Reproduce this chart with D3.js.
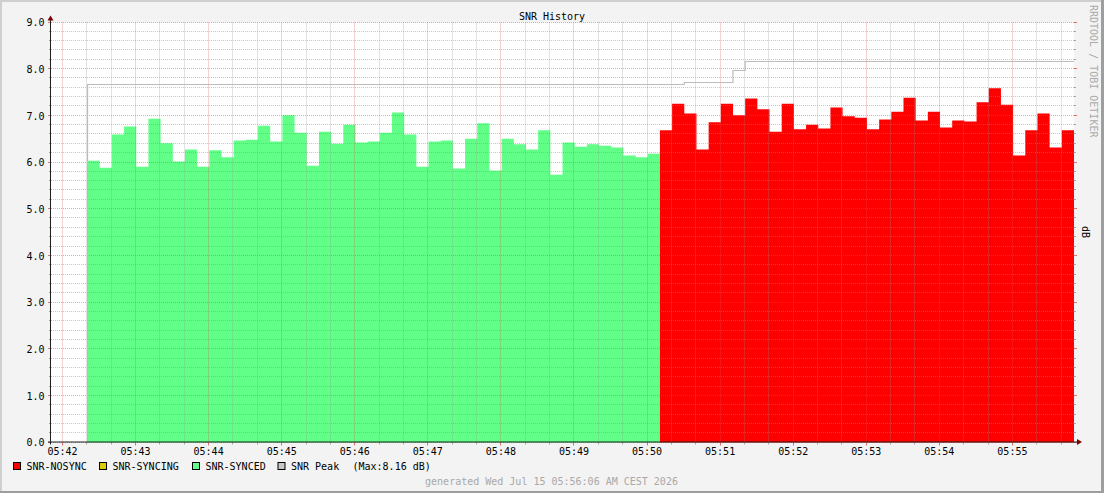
<!DOCTYPE html>
<html><head><meta charset="utf-8">
<script src="https://cdn.jsdelivr.net/npm/d3@7"></script>
<style>
body{margin:0;background:#f3f3f3}
svg text{font-family:"DejaVu Sans Mono",monospace;font-size:10px}
</style></head>
<body><svg id="c" width="1104" height="493"></svg>
<script>
// ---------- data ----------
const day = "2026-07-15T";
const timeDomain = ["05:41:51", "05:55:51"];
const tickLabels = ["05:42","05:43","05:44","05:45","05:46","05:47","05:48","05:49","05:50","05:51","05:52","05:53","05:54","05:55"];
const yTickValues = [0,1,2,3,4,5,6,7,8,9];
const firstBarStart = "05:42:21";
const stepSeconds = 10;
const syncedValues = [6.04,5.89,6.60,6.77,5.91,6.94,6.41,6.02,6.28,5.91,6.26,6.11,6.47,6.49,6.79,6.45,7.01,6.64,5.93,6.66,6.40,6.81,6.43,6.45,6.64,7.07,6.60,5.91,6.45,6.47,5.87,6.51,6.84,5.83,6.51,6.39,6.28,6.69,5.74,6.43,6.34,6.39,6.36,6.32,6.15,6.11,6.19];
const syncingValues = [];
const nosyncValues = [6.69,7.26,7.05,6.28,6.86,7.26,7.01,7.37,7.14,6.66,7.26,6.71,6.81,6.73,7.18,6.99,6.96,6.71,6.92,7.09,7.39,6.90,7.09,6.75,6.90,6.88,7.29,7.59,7.24,6.15,6.69,7.05,6.32,6.69];
const peakChangeTimes = ["05:42:21","05:50:31","05:51:11","05:51:21"];
const peakValues = [7.67,7.71,7.96,8.16];
const legendLabels = ["SNR-NOSYNC","SNR-SYNCING","SNR-SYNCED","SNR Peak"];
const legendColors = ["#ff0000","#ddcc00","#62ff88","#c8c8c8"];
const peakMaxLabel = "(Max:8.16 dB)";
const titleText = "SNR History";
const unitLabel = "dB";
const watermark = "RRDTOOL / TOBI OETIKER";
const footerText = "generated Wed Jul 15 05:56:06 AM CEST 2026";

// ---------- setup ----------
const T = s => new Date(day + (s.length === 5 ? s + ":00" : s) + "Z");
const svg = d3.select("#c");
const W = 1104, H = 493;
const L = 51, R = 1074, TOP = 22.5, BOT = 442.5;

const x = d3.scaleUtc().domain(timeDomain.map(T)).range([L, R]);
const y = d3.scaleLinear().domain([0, 9]).range([BOT, TOP]);
const barTime = i => new Date(T(firstBarStart).getTime() + i * stepSeconds * 1000);
const crisp = v => Math.round(v) + 0.5;

// background + borders
svg.append("rect").attr("width", W).attr("height", H).attr("fill", "#f3f3f3");
svg.append("rect").attr("x", 0).attr("y", 0).attr("width", W).attr("height", 2).attr("fill", "#cfcfcf");
svg.append("rect").attr("x", 0).attr("y", 0).attr("width", 2).attr("height", H).attr("fill", "#cfcfcf");
svg.append("rect").attr("x", 0).attr("y", 491).attr("width", W).attr("height", 2).attr("fill", "#9e9e9e");
svg.append("rect").attr("x", 1101).attr("y", 0).attr("width", 3).attr("height", H).attr("fill", "#9e9e9e");

// canvas
svg.append("rect").attr("x", L).attr("y", TOP).attr("width", R - L).attr("height", BOT - TOP).attr("fill", "#ffffff");

// areas
function segArea(vals, offset, color) {
  if (!vals.length) return;
  const pts = vals.map((v, k) => ({t: barTime(offset + k), v}));
  pts.push({t: barTime(offset + vals.length), v: vals[vals.length - 1]});
  const a = d3.area().x(d => x(d.t)).y0(y(0)).y1(d => y(d.v)).curve(d3.curveStepAfter);
  svg.append("path").attr("d", a(pts)).attr("fill", color);
}
segArea(syncedValues, 0, legendColors[2]);
segArea(syncingValues, syncedValues.length, legendColors[1]);
segArea(nosyncValues, syncedValues.length + syncingValues.length, legendColors[0]);

// grid (drawn over data, as rrdtool does)
const grid = svg.append("g");
const minorCol = "rgba(143,143,143,0.5)", majorCol = "rgba(222,79,79,0.5)";
const majorT = tickLabels.map(T);
const minorT = d3.utcSecond.every(20).range(x.domain()[0], x.domain()[1])
  .filter(d => d.getUTCSeconds() !== 0);
const yMinor = d3.range(0, 45).map(k => k * 0.2).filter(v => Math.abs(v - Math.round(v)) > 1e-6);

minorT.forEach(t => {
  const xx = crisp(x(t));
  grid.append("line").attr("x1", xx).attr("x2", xx).attr("y1", TOP).attr("y2", BOT)
    .attr("stroke", minorCol).attr("stroke-dasharray", "1,1");
  grid.append("line").attr("x1", xx).attr("x2", xx).attr("y1", BOT).attr("y2", BOT + 2).attr("stroke", "rgba(143,143,143,0.8)");
});
yMinor.forEach(v => {
  const yy = crisp(y(v)) - 1;
  grid.append("line").attr("x1", L).attr("x2", R).attr("y1", yy).attr("y2", yy)
    .attr("stroke", minorCol).attr("stroke-dasharray", "1,1");
  grid.append("line").attr("x1", L - 2).attr("x2", L).attr("y1", yy).attr("y2", yy).attr("stroke", "rgba(143,143,143,0.8)");
  grid.append("line").attr("x1", R).attr("x2", R + 2).attr("y1", yy).attr("y2", yy).attr("stroke", "rgba(143,143,143,0.8)");
});
majorT.forEach(t => {
  const xx = crisp(x(t));
  grid.append("line").attr("x1", xx).attr("x2", xx).attr("y1", TOP).attr("y2", BOT)
    .attr("stroke", majorCol).attr("stroke-dasharray", "1,1");
  grid.append("line").attr("x1", xx).attr("x2", xx).attr("y1", BOT).attr("y2", BOT + 3).attr("stroke", "rgba(222,79,79,0.8)");
});
yTickValues.forEach(v => {
  const yy = crisp(y(v)) - 1;
  grid.append("line").attr("x1", L).attr("x2", R).attr("y1", yy).attr("y2", yy)
    .attr("stroke", majorCol).attr("stroke-dasharray", "1,1");
  grid.append("line").attr("x1", L - 3).attr("x2", L).attr("y1", yy).attr("y2", yy).attr("stroke", "rgba(222,79,79,0.8)");
  grid.append("line").attr("x1", R).attr("x2", R + 3).attr("y1", yy).attr("y2", yy).attr("stroke", "rgba(222,79,79,0.8)");
});

// peak line
const peakPts = [{t: T(peakChangeTimes[0]), v: 0}]
  .concat(peakChangeTimes.map((s, i) => ({t: T(s), v: peakValues[i]})))
  .concat([{t: T(timeDomain[1]), v: peakValues[peakValues.length - 1]}]);
const pl = d3.line().x(d => x(d.t)).y(d => crisp(y(d.v)) - 1).curve(d3.curveStepAfter);
svg.append("path").attr("d", pl(peakPts)).attr("fill", "none")
  .attr("stroke", "#bdbdbd").attr("stroke-width", 1.2);

// axes lines + arrows
svg.append("line").attr("x1", 48).attr("x2", 1078).attr("y1", BOT - 0.5).attr("y2", BOT - 0.5).attr("stroke", "#1f1f1f");
svg.append("line").attr("x1", 50.5).attr("x2", 50.5).attr("y1", BOT + 2).attr("y2", 19).attr("stroke", "#1f1f1f");
svg.append("path").attr("d", "M1077,439L1082,442L1077,445Z").attr("fill", "#800000");
svg.append("path").attr("d", "M47.5,20.5L53.5,20.5L50.5,15.5Z").attr("fill", "#800000");

// axis labels via d3 axes
const xa = svg.append("g").attr("transform", `translate(0,${BOT})`)
  .call(d3.axisBottom(x).tickValues(majorT).tickFormat(d3.utcFormat("%H:%M")).tickSize(0).tickPadding(5.5));
xa.select(".domain").remove();
xa.selectAll("text").attr("fill", "#000").style("font-family", "DejaVu Sans Mono").style("font-size", "10px");

const ya = svg.append("g").attr("transform", `translate(${L},0)`)
  .call(d3.axisLeft(y).tickValues(yTickValues).tickFormat(d3.format(".1f")).tickSize(0).tickPadding(6.5));
ya.select(".domain").remove();
ya.selectAll("text").attr("fill", "#000").style("font-family", "DejaVu Sans Mono").style("font-size", "10px");

// title
svg.append("text").attr("x", 552).attr("y", 19.5).attr("text-anchor", "middle").attr("fill", "#000").text(titleText);

// right side texts
svg.append("text").attr("transform", "translate(1089.5,5) rotate(90)").attr("fill", "#aaaaaa").text(watermark);
svg.append("text").attr("transform", "translate(1082,232) rotate(90)").attr("text-anchor", "middle").attr("fill", "#000").text(unitLabel);

// legend
const legX = [13.5, 99.5, 192.5, 278];
legendLabels.forEach((lab, i) => {
  svg.append("rect").attr("x", legX[i]).attr("y", 462.5).attr("width", 7).attr("height", 7)
    .attr("fill", legendColors[i]).attr("stroke", "#000").attr("stroke-width", 1);
  svg.append("text").attr("x", legX[i] + 13).attr("y", 469.5).attr("fill", "#000").text(lab);
});
svg.append("text").attr("x", 352.5).attr("y", 469.5).attr("fill", "#000").text(peakMaxLabel);

// footer
svg.append("text").attr("x", 551.5).attr("y", 484.5).attr("text-anchor", "middle").attr("fill", "#a8a8a8").text(footerText);
</script>
</body></html>
